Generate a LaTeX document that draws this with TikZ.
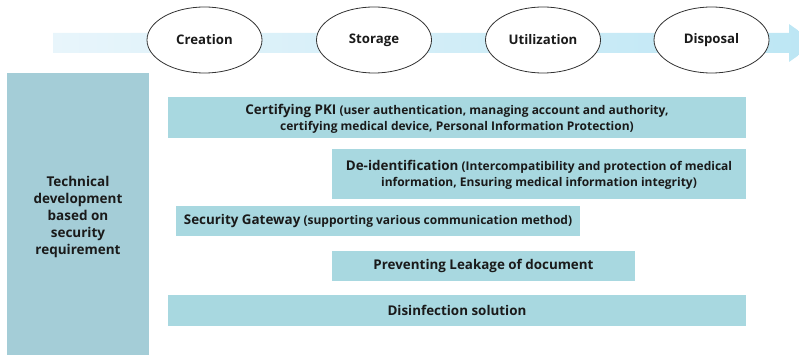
\documentclass[tikz,border=0pt]{standalone}
\usepackage{fontspec}
\setmainfont{Open Sans}
\usetikzlibrary{shapes.geometric}
\definecolor{boxc}{HTML}{A8D8E0}
\definecolor{leftc}{HTML}{A4CDD7}
\definecolor{arrL}{HTML}{E8F5FB}
\definecolor{arrR}{HTML}{BCE6F4}
\definecolor{txt}{HTML}{1A1A1A}
\begin{document}
\begin{tikzpicture}[x=1pt,y=-1pt,
  stage/.style={draw=black!80, line width=0.8pt, fill=white, ellipse, minimum width=115pt, minimum height=66pt, inner sep=0pt, font=\bfseries\fontsize{13.2}{16}\selectfont, text=txt},
  bar/.style={fill=boxc, draw=none},
  bartext/.style={align=center, text=txt, font=\bfseries\fontsize{12}{16}\selectfont, inner sep=0pt},
  big/.style={font=\bfseries\fontsize{13.4}{17}\selectfont}]
\useasboundingbox (0,0) rectangle (799,355);
% timeline arrow
\shade[left color=arrL, right color=arrR] (53,33) -- (789,33) -- (789,24) -- (816,43) -- (789,62) -- (789,53) -- (53,53) -- cycle;
\node[stage] (cre) at (204.5,40) {Creation};
\node[stage] (sto) at (374,40) {Storage};
\node[stage] (uti) at (543,40) {Utilization};
\node[stage] (dis) at (711.5,40) {Disposal};
% left box
\fill[leftc] (7,73) rectangle (149,360);
\node[bartext, font=\bfseries\fontsize{13.5}{17}\selectfont] (tech) at (78,216.5) {Technical\\development\\based on\\security\\requirement};
% bars
\fill[bar] (168,97) rectangle (746,138);
\node[bartext] (pki) at (457,119) {{\fontsize{13.4}{16}\selectfont Certifying PKI} (user authentication, managing account and authority,\\certifying medical device, Personal Information Protection)};
\fill[bar] (332,149) rectangle (746,199);
\node[bartext] (deid) at (539,175) {{\fontsize{13.4}{16}\selectfont De-identification} (Intercompatibility and protection of medical\\information, Ensuring medical information integrity)};
\fill[bar] (176,206) rectangle (580,236);
\node[bartext] (sg) at (378,221) {{\fontsize{13.4}{16}\selectfont Security Gateway} (supporting various communication method)};
\fill[bar] (332,251) rectangle (635,281);
\node[bartext, big] (prev) at (483.5,266) {Preventing Leakage of document};
\fill[bar] (168,295) rectangle (746,326);
\node[bartext, big] (dsf) at (457,310.5) {Disinfection solution};
\end{tikzpicture}
\end{document}
